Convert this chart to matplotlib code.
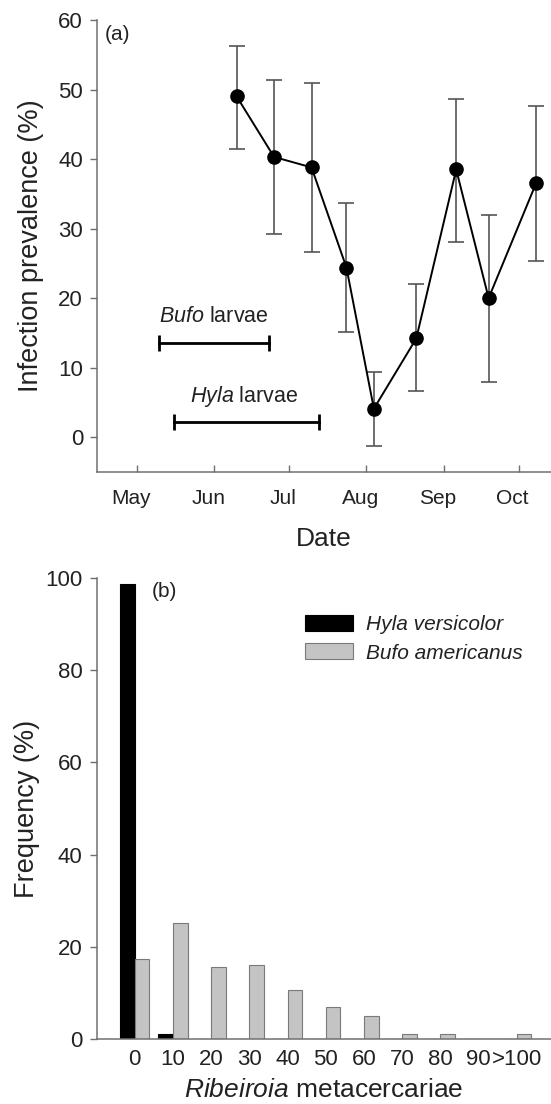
#!/usr/bin/env python3
import numpy as np
import pandas as pd
import matplotlib
matplotlib.use('Agg')
import matplotlib.pyplot as plt
import matplotlib.transforms as mtransforms

# Panel (a): infection prevalence through the season
sample_dates = ['2000-06-10', '2000-06-25', '2000-07-10', '2000-07-24', '2000-08-04',
                '2000-08-21', '2000-09-06', '2000-09-19', '2000-10-08']
prevalence = [49.0, 40.3, 38.8, 24.4, 4.1, 14.2, 38.5, 20.0, 36.5]
err_low = [41.5, 29.2, 26.6, 15.1, -1.2, 6.6, 28.1, 8.0, 25.3]
err_high = [56.2, 51.3, 51.0, 33.7, 9.4, 22.0, 48.7, 32.0, 47.6]

larvae_names = ['Bufo', 'Hyla']
larvae_start = ['2000-05-10', '2000-05-16']
larvae_end = ['2000-06-23', '2000-07-13']
larvae_y = [13.6, 2.2]
larvae_label_x = ['2000-06-01', '2000-06-13']
larvae_label_y = [17.4, 5.9]

month_starts = ['2000-05-01', '2000-06-01', '2000-07-01', '2000-08-01', '2000-09-01', '2000-10-01']
month_labels = ['May', 'Jun', 'Jul', 'Aug', 'Sep', 'Oct']

# Panel (b): frequency distribution of metacercariae
bins = ['0', '10', '20', '30', '40', '50', '60', '70', '80', '90', '>100']
hyla_freq = [98.6, 1.1, 0, 0, 0, 0, 0, 0, 0, 0, 0]
bufo_freq = [17.3, 25.2, 15.7, 16.1, 10.6, 7.0, 5.0, 1.0, 1.0, 0, 1.0]

plt.rcParams['font.family'] = ['Liberation Sans', 'DejaVu Sans']
plt.rcParams['mathtext.fontset'] = 'custom'
plt.rcParams['mathtext.rm'] = 'Liberation Sans'
plt.rcParams['mathtext.it'] = 'Liberation Sans:italic'
SPINE = '#707070'
TXT = '#222222'


def style_axes(ax):
    for side in ('top', 'right'):
        ax.spines[side].set_visible(False)
    for side in ('left', 'bottom'):
        ax.spines[side].set_color(SPINE)
        ax.spines[side].set_linewidth(1.1)
    ax.tick_params(axis='y', direction='out', length=5, width=1, color=SPINE,
                   labelsize=16, labelcolor=TXT, pad=5)


fig = plt.figure(figsize=(5.51, 11.04), dpi=100)

# ---- (a) ----
ax1 = fig.add_axes([0.176, 0.5725, 0.824, 0.4094])
style_axes(ax1)
d = pd.to_datetime(sample_dates)
prev = np.array(prevalence)
yerr = [prev - np.array(err_low), np.array(err_high) - prev]
ax1.errorbar(d, prev, yerr=yerr, fmt='none', ecolor='#555555', elinewidth=1.2,
             capsize=5.5, capthick=1.2, zorder=2)
ax1.plot(d, prev, color='black', linewidth=1.4, marker='o', markersize=9.5, zorder=3)

for name, s, e, y, lx, ly in zip(larvae_names, larvae_start, larvae_end, larvae_y,
                                 larvae_label_x, larvae_label_y):
    ax1.plot(pd.to_datetime([s, e]), [y, y], color='black', linewidth=2,
             marker='|', markersize=11, markeredgewidth=2)
    ax1.text(pd.Timestamp(lx), ly, f'$\\it{{{name}}}$ larvae', ha='center', va='center',
             fontsize=15.5, color=TXT)

ax1.set_xlim(pd.Timestamp('2000-04-15'), pd.Timestamp('2000-10-14'))
ax1.set_ylim(-5, 60)
ax1.set_yticks(range(0, 61, 10))
ax1.set_xticks(pd.to_datetime(month_starts))
ax1.set_xticklabels(month_labels)
ax1.tick_params(axis='x', direction='in', length=5, width=1, color=SPINE,
                labelsize=15, labelcolor=TXT, pad=12)
offset = mtransforms.ScaledTranslation(-6 / 100, 0, fig.dpi_scale_trans)
for lab in ax1.get_xticklabels():
    lab.set_transform(lab.get_transform() + offset)
ax1.set_xlabel('Date', fontsize=19, color=TXT, labelpad=14)
ax1.set_ylabel('Infection prevalence (%)', fontsize=19.5, color=TXT, labelpad=10)
ax1.text(0.046, 0.967, '(a)', transform=ax1.transAxes, fontsize=15, color=TXT,
         ha='center', va='center')

# ---- (b) ----
ax2 = fig.add_axes([0.1753, 0.0589, 0.8247, 0.4176])
style_axes(ax2)
x = np.arange(len(bins))
w = 0.385
ax2.bar(x - w / 2, hyla_freq, w, color='black', edgecolor='black', linewidth=0.8,
        label='Hyla versicolor')
ax2.bar(x + w / 2, bufo_freq, w, color='#c4c4c4', edgecolor='#7a7a7a', linewidth=0.8,
        label='Bufo americanus')
ax2.set_xlim(-1.0, 10.9)
ax2.set_ylim(0, 100)
ax2.set_yticks(range(0, 101, 20))
ax2.set_xticks(x)
ax2.set_xticklabels(bins)
ax2.tick_params(axis='x', length=0, labelsize=16, labelcolor=TXT, pad=7)
ax2.set_xlabel('$\\it{Ribeiroia}$ metacercariae', fontsize=19, color=TXT, labelpad=6)
ax2.set_ylabel('Frequency (%)', fontsize=19.5, color=TXT, labelpad=4)
ax2.text(0.15, 0.97, '(b)', transform=ax2.transAxes, fontsize=15, color=TXT,
         ha='center', va='center')
leg = ax2.legend(loc='upper left', bbox_to_anchor=(0.459, 0.92), frameon=False,
                 borderpad=0, borderaxespad=0, handlelength=2.3, handleheight=0.8,
                 handletextpad=0.6, labelspacing=0.45,
                 prop={'size': 15, 'style': 'italic'})
for t in leg.get_texts():
    t.set_color(TXT)

fig.savefig('out.png', dpi=100)
